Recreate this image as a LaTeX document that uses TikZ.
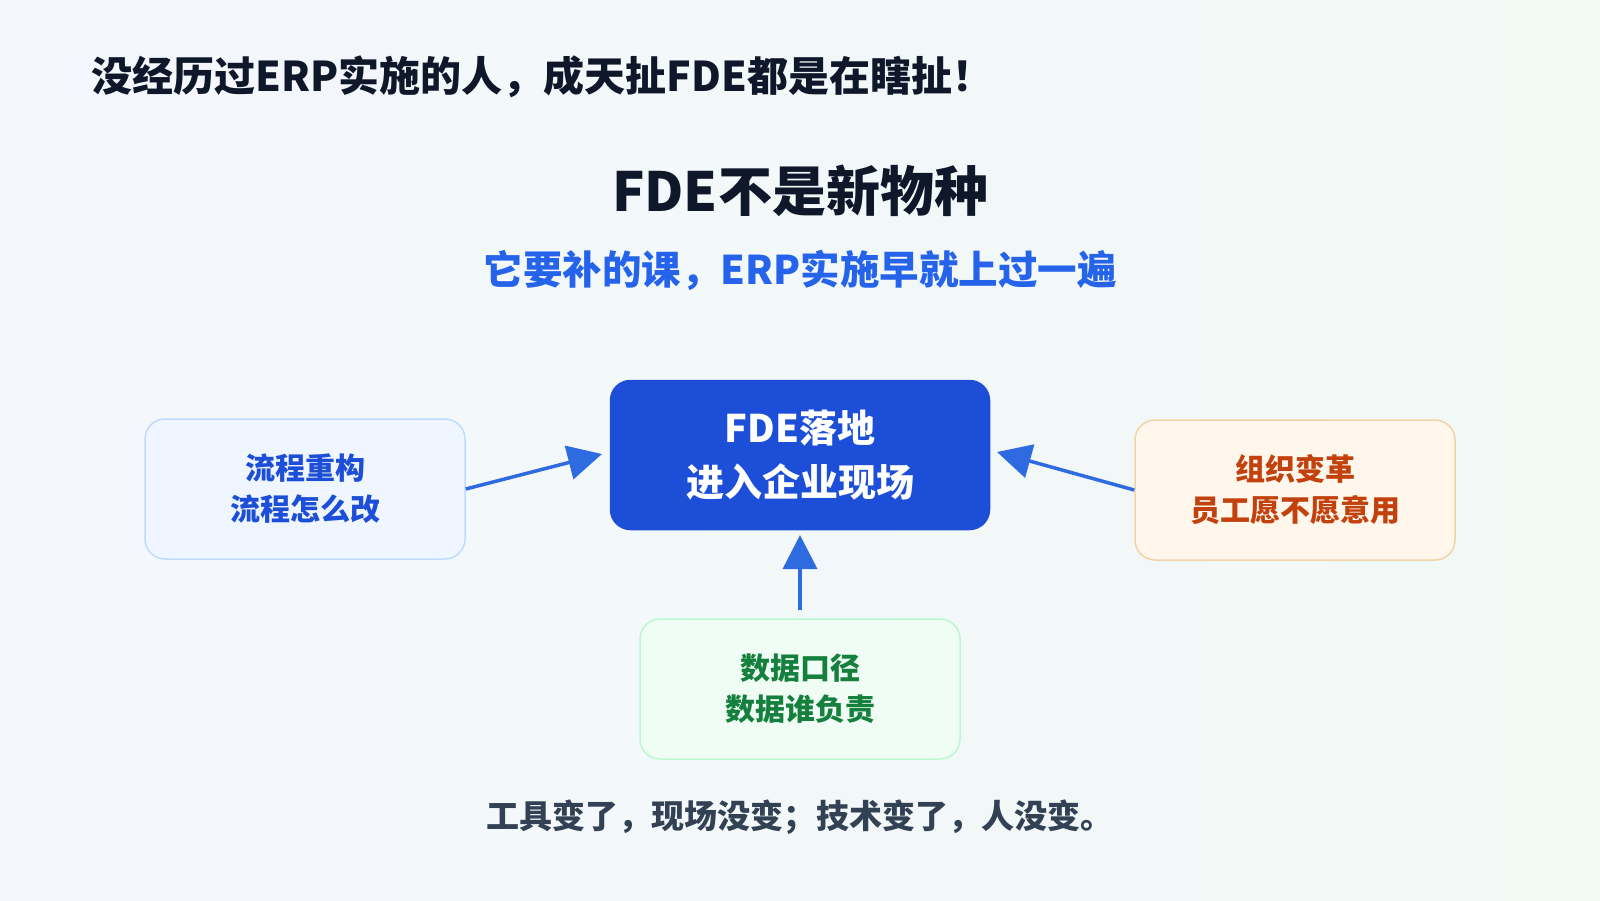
\documentclass[tikz,border=0pt]{standalone}
\usepackage{fontspec}
\setmainfont{Noto Sans CJK SC}
\usetikzlibrary{arrows.meta}
\definecolor{bgA}{HTML}{F4F7FD}
\definecolor{bgB}{HTML}{F1F9F5}
\definecolor{cblue}{HTML}{1D4ED8}
\definecolor{sub}{HTML}{2563EB}
\definecolor{arr}{HTML}{2F6BE0}
\definecolor{dark}{HTML}{0F172A}
\definecolor{foot}{HTML}{334155}
\definecolor{lfill}{HTML}{EFF6FF}
\definecolor{ldraw}{HTML}{BFDBFE}
\definecolor{ltext}{HTML}{1D4ED8}
\definecolor{rfill}{HTML}{FFF6EC}
\definecolor{rdraw}{HTML}{F3D2A6}
\definecolor{rtext}{HTML}{C2410C}
\definecolor{bfill}{HTML}{F0FDF4}
\definecolor{bdraw}{HTML}{BBF7D0}
\definecolor{btext}{HTML}{15803D}
\tikzset{
 box/.style={rounded corners=20pt, line width=1.5pt, minimum width=320pt, minimum height=140pt, align=center, font=\fontsize{30}{41}\selectfont\bfseries},
 conn/.style={arr, line width=3.5pt, -{Triangle[length=34pt,width=34pt]}},
}
\begin{document}
\begin{tikzpicture}[x=1pt,y=-1pt]
\shade[left color=bgA, right color=bgB] (0,0) rectangle (1600,900);
\useasboundingbox (0,0) rectangle (1600,900);
\node[anchor=west, text=dark, font=\fontsize{41}{48}\selectfont\bfseries] (t) at (88,77) {没经历过ERP实施的人，成天扯FDE都是在瞎扯！};
\node[text=dark, font=\fontsize{54}{64}\selectfont\bfseries] (h) at (800,191) {FDE不是新物种};
\node[text=sub, font=\fontsize{39.5}{46}\selectfont\bfseries] (s) at (800,270) {它要补的课，ERP实施早就上过一遍};
\node[box, fill=cblue, draw=cblue, text=white, minimum width=379pt, minimum height=149pt, font=\fontsize{38}{54}\selectfont\bfseries] (C) at (800,455) {FDE落地\\进入企业现场};
\node[box, fill=lfill, draw=ldraw, text=ltext] (L) at (305,489) {流程重构\\流程怎么改};
\node[box, fill=rfill, draw=rdraw, text=rtext] (R) at (1295,490) {组织变革\\员工愿不愿意用};
\node[box, fill=bfill, draw=bdraw, text=btext] (B) at (800,689) {数据口径\\数据谁负责};
\node[text=foot, font=\fontsize{33}{40}\selectfont\bfseries] (f) at (800,817) {工具变了，现场没变；技术变了，人没变。};
\coordinate (le) at (602,454);
\coordinate (re) at (997,452);
\coordinate (be) at (800,535);
\coordinate (bs) at (800,610);
\draw[conn] (L.east) -- (le);
\draw[conn] (R.west) -- (re);
\draw[conn] (bs) -- (be);
\end{tikzpicture}
\end{document}
